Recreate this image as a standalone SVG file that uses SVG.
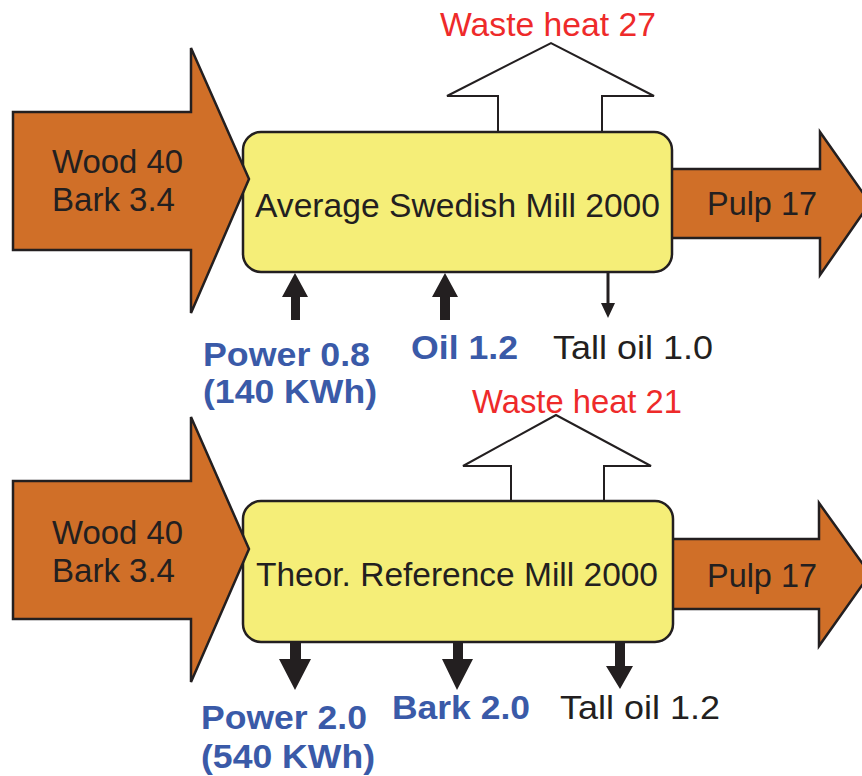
<svg xmlns="http://www.w3.org/2000/svg" width="862" height="776" viewBox="0 0 862 776">
<style>
.flow{fill:#D06F28;stroke:#231F20;stroke-width:2.5;stroke-linejoin:miter}
.box{fill:#F5EE78;stroke:#231F20;stroke-width:2.5}
.heat{fill:#FFFFFF;stroke:#231F20;stroke-width:2}
.dark{fill:#231F20;stroke:none}
text{font-family:"Liberation Sans",Arial,sans-serif;font-size:33px}
.t{fill:#231F20}
.red{fill:#EE2A2A}
.blue{fill:#3A5AA8;font-weight:bold}
</style>
<rect width="862" height="776" fill="#FFFFFF"/>

<!-- Top: Average Swedish Mill 2000 -->
<g id="pulp-top">
<polygon class="flow" points="660,169 820,169 820,132 870,203 820,275 820,238 660,238"/>
<text class="t" x="707" y="215" textLength="110" lengthAdjust="spacingAndGlyphs">Pulp 17</text>
</g>
<g id="waste-top">
<polygon class="heat" points="498,132 498,96 447,96 551,43 654,96 602,96 602,132"/>
<text class="red" x="440" y="36" textLength="216" lengthAdjust="spacingAndGlyphs">Waste heat 27</text>
</g>
<g id="mill-top">
<rect class="box" x="243" y="132" width="429" height="140" rx="18"/>
<text class="t" x="255" y="217" textLength="405" lengthAdjust="spacingAndGlyphs">Average Swedish Mill 2000</text>
</g>
<g id="wood-top">
<polygon class="flow" points="13,112 191,112 191,48 249,179 191,313 191,250 13,250"/>
<text class="t" x="52" y="173" textLength="131" lengthAdjust="spacingAndGlyphs">Wood 40</text>
<text class="t" x="52" y="211" textLength="123" lengthAdjust="spacingAndGlyphs">Bark 3.4</text>
</g>
<g id="power-top">
<text class="blue" x="203" y="366" textLength="167" lengthAdjust="spacingAndGlyphs">Power 0.8</text>
<text class="blue" x="203" y="403" textLength="174" lengthAdjust="spacingAndGlyphs">(140 KWh)</text>
</g>
<g id="oil-top">
<text class="blue" x="411" y="359" textLength="107" lengthAdjust="spacingAndGlyphs">Oil 1.2</text>
</g>
<g id="talloil-top">
<text class="t" x="553" y="359" textLength="160" lengthAdjust="spacingAndGlyphs">Tall oil 1.0</text>
</g>

<!-- Bottom: Theor. Reference Mill 2000 -->
<g id="pulp-bottom">
<polygon class="flow" points="660,539 819,539 819,503 870,574 819,646 819,609 660,609"/>
<text class="t" x="707" y="587" textLength="110" lengthAdjust="spacingAndGlyphs">Pulp 17</text>
</g>
<g id="waste-bottom">
<polygon class="heat" points="511,501 511,466 463,466 556,415 651,466 604,466 604,501"/>
<text class="red" x="472" y="413" textLength="210" lengthAdjust="spacingAndGlyphs">Waste heat 21</text>
</g>
<g id="mill-bottom">
<rect class="box" x="243" y="501" width="430" height="141" rx="18"/>
<text class="t" x="256" y="586" textLength="402" lengthAdjust="spacingAndGlyphs">Theor. Reference Mill 2000</text>
</g>
<g id="wood-bottom">
<polygon class="flow" points="13,481 191,481 191,417 249,549 191,682 191,619 13,619"/>
<text class="t" x="52" y="544" textLength="131" lengthAdjust="spacingAndGlyphs">Wood 40</text>
<text class="t" x="52" y="582" textLength="123" lengthAdjust="spacingAndGlyphs">Bark 3.4</text>
</g>
<g id="power-bottom">
<text class="blue" x="201" y="729" textLength="166" lengthAdjust="spacingAndGlyphs">Power 2.0</text>
<text class="blue" x="201" y="768" textLength="174" lengthAdjust="spacingAndGlyphs">(540 KWh)</text>
</g>
<g id="bark-bottom">
<text class="blue" x="392" y="719" textLength="138" lengthAdjust="spacingAndGlyphs">Bark 2.0</text>
</g>
<g id="talloil-bottom">
<text class="t" x="560" y="719" textLength="160" lengthAdjust="spacingAndGlyphs">Tall oil 1.2</text>
</g>

<g id="connectors">
<polygon class="dark" points="291,320 291,297 282,297 295,273 308,297 300,297 300,320"/>
<polygon class="dark" points="440,320 440,297 432,297 445,273 458,297 450,297 450,320"/>
<line x1="608" y1="272" x2="608" y2="305" stroke="#231F20" stroke-width="3"/>
<polygon class="dark" points="601,303 615,303 608,318"/>
<polygon class="dark" points="290,642 290,659 279,659 295,690 311,659 301,659 301,642"/>
<polygon class="dark" points="453,642 453,659 442,659 457,690 473,659 463,659 463,642"/>
<polygon class="dark" points="615,642 615,666 606,666 620,689 633,666 625,666 625,642"/>
</g>
</svg>
